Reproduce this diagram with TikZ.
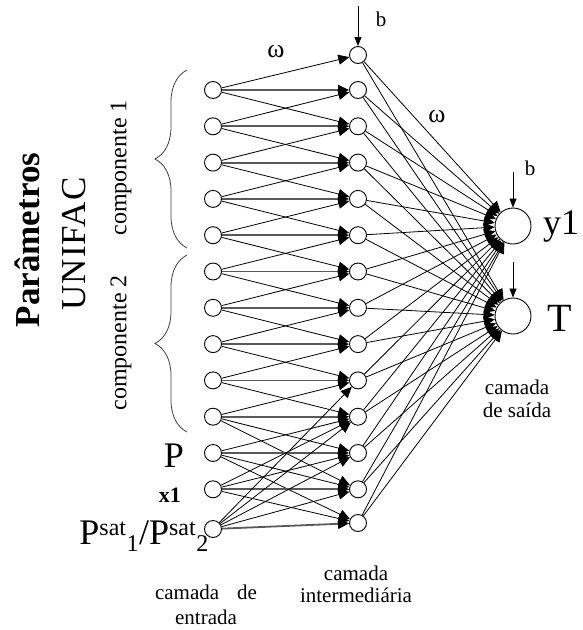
\documentclass[tikz,border=0pt]{standalone}
\usepackage{fontspec}
\setmainfont{Liberation Serif}
\usetikzlibrary{arrows.meta,decorations.pathreplacing}
\newcommand{\fsz}[1]{\fontsize{#1}{#1}\selectfont}
\begin{document}
\begin{tikzpicture}[x=1pt,y=-1pt,
  neuron/.style={circle,draw,line width=0.9pt,minimum size=17pt,inner sep=0pt,fill=white},
  outn/.style={circle,draw,line width=0.9pt,minimum size=36pt,inner sep=0pt,fill=white},
  tip/.style={-{Triangle[length=11pt,width=10pt,color=black]}},
  conn/.style={line width=0.8pt,tip},
  hconn/.style={line width=1.8pt,draw=black!65,tip},
  biasarrow/.style={line width=0.8pt,-{Triangle[length=9pt,width=7pt]}},
  bracestyle/.style={decorate,decoration={brace,amplitude=32pt},line width=0.8pt,draw=black!75},
  lbl/.style={inner sep=0pt}
]
\useasboundingbox (0,0) rectangle (582,630);

% input layer
\foreach \k in {1,...,12} {
  \node[neuron] (i\k) at (213,{90+36.3*(\k-1)}) {};
}
\node[neuron] (i13) at (213,529) {};
% hidden layer
\node[neuron] (h0) at (358,55) {};
\foreach \k in {1,...,12} {
  \node[neuron] (h\k) at (358,{90+36.3*(\k-1)}) {};
}
\node[neuron] (h13) at (358,523) {};
% output layer
\node[outn] (y) at (513,226) {};
\node[outn] (t) at (513,316) {};

% input -> hidden
\foreach \k [evaluate=\k as \a using int(\k-1), evaluate=\k as \b using int(\k+1)] in {1,...,10} {
  \draw[conn] (i\k) -- (h\a);
  \draw[hconn] (i\k) -- (h\k);
  \draw[conn] (i\k) -- (h\b);
}
\draw[conn] (i10) -- (h12);
\draw[conn] (i11) -- (h10);
\draw[hconn] (i11) -- (h11);
\draw[conn] (i11) -- (h12);
\draw[conn] (i11) -- (h13);
\draw[conn] (i12) -- (h10);
\draw[conn] (i12) -- (h11);
\draw[hconn] (i12) -- (h12);
\draw[conn] (i12) -- (h13);
\draw[conn] (i13) -- (h9);
\draw[conn] (i13) -- (h10);
\draw[conn] (i13) -- (h11);
\draw[conn] (i13) -- (h12);
\draw[hconn] (i13) -- (h13);

% hidden -> output
\foreach \k in {0,...,13} {
  \draw[conn] (h\k) -- (y);
  \draw[conn] (h\k) -- (t);
}

% biases
\coordinate (b0) at (358,6);
\draw[biasarrow] (b0) -- (h0);
\node[lbl,font=\fsz{21}] (lb0) at (381,19) {b};
\coordinate (by) at (513,172);
\draw[biasarrow] (by) -- (y);
\node[lbl,font=\fsz{21}] (lby) at (530,168) {b};
\coordinate (bt) at (513,262);
\draw[biasarrow] (bt) -- (t);

% weights
\node[lbl,font=\fsz{26}] (w1) at (276,52) {ω};
\node[lbl,font=\fsz{26}] (w2) at (437,117) {ω};

% output labels
\node[lbl,font=\fsz{36}] (ly) at (561,226) {y1};
\node[lbl,font=\fsz{40}] (lt) at (560,318) {T};
\node[lbl,font=\fsz{21},align=center] (ls) at (517,399) {camada\\[2pt]de saída};

% input labels
\node[lbl,font=\fsz{36},anchor=east] (lp) at (184,456) {P};
\node[lbl,font=\fsz{22}\bfseries,anchor=east] (lx) at (181,495) {x1};
\node[lbl,font=\fsz{36},anchor=east] (lps) at (209,536) {P\textsuperscript{\fsz{24}sat}\textsubscript{\fsz{24}1}/P\textsuperscript{\fsz{24}sat}\textsubscript{\fsz{24}2}};

% layer labels
\node[lbl,font=\fsz{21}] (le1) at (206,592) {camada\hspace{18pt}de};
\node[lbl,font=\fsz{21}] (le2) at (206,617) {entrada};
\node[lbl,font=\fsz{21},align=center] (lm) at (356,584) {camada\\[1pt]intermediária};

% braces and group labels
\coordinate (c1a) at (187,248);
\coordinate (c1b) at (187,70);
\coordinate (c2a) at (187,432);
\coordinate (c2b) at (187,255);
\draw[bracestyle] (c1a) -- (c1b);
\draw[bracestyle] (c2a) -- (c2b);
\node[lbl,font=\fsz{24},rotate=90] (lc1) at (121,168) {componente 1};
\node[lbl,font=\fsz{24},rotate=90] (lc2) at (121,343) {componente 2};
\node[lbl,font=\fsz{35}\bfseries,rotate=90] (lpar) at (27,240) {Parâmetros};
\node[lbl,font={\fsz{35}\addfontfeatures{LetterSpace=3}},rotate=90] (lun) at (74,244) {UNIFAC};
\end{tikzpicture}
\end{document}
